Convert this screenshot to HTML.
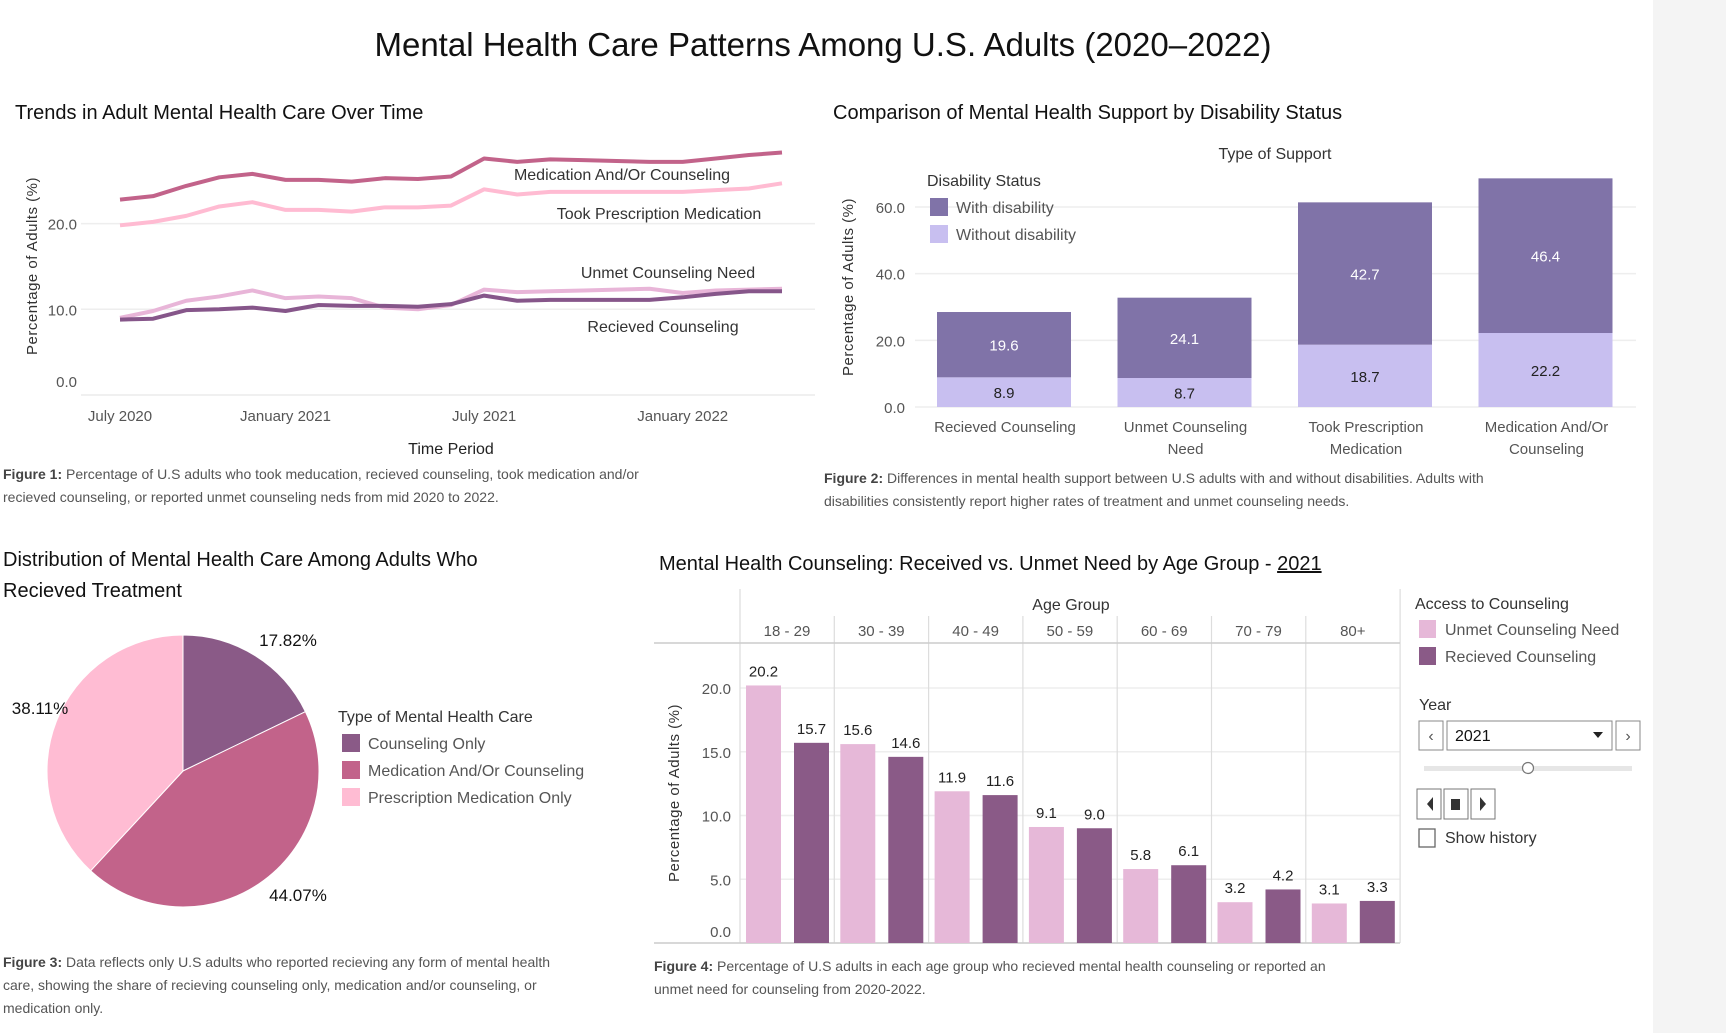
<!DOCTYPE html>
<html><head><meta charset="utf-8"><style>
body{margin:0;background:#fff;}
svg{display:block;font-family:"Liberation Sans",sans-serif;}
</style></head><body>
<svg id="root" width="1726" height="1033" viewBox="0 0 1726 1033">
<rect x="1653" y="0" width="73" height="1033" fill="#f4f4f4"/>
<text x="823" y="56" text-anchor="middle" font-size="33" fill="#111">Mental Health Care Patterns Among U.S. Adults (2020–2022)</text>
<g id="c1"></g>
<g id="c2"></g>
<g id="c3"></g>
<g id="c4"></g>
</svg>
<script>
const medCounsel=[22.8,23.2,24.4,25.4,25.8,25.1,25.1,24.9,25.3,25.2,25.5,27.6,27.2,27.5,27.4,27.3,27.2,27.2,27.6,28.0,28.3];
const tookRx=[19.8,20.2,20.9,22.0,22.5,21.6,21.6,21.4,21.9,21.9,22.1,24.0,23.4,23.7,23.7,23.7,23.7,23.7,23.9,24.1,24.7];
const unmetNeed=[9.0,9.8,11.0,11.5,12.2,11.3,11.5,11.3,10.2,10.0,10.5,12.3,12.0,12.1,12.2,12.3,12.4,11.9,12.2,12.3,12.4];
const receivedC=[8.8,8.9,9.9,10.0,10.2,9.8,10.5,10.4,10.4,10.3,10.6,11.6,11.0,11.1,11.1,11.1,11.1,11.4,11.8,12.1,12.1];
const trendTickIdx=[0,5,11,17];
const trendTickLabels=["July 2020","January 2021","July 2021","January 2022"];
const trendYTicks=[0,10,20];

const supportCats=["Recieved Counseling","Unmet Counseling|Need","Took Prescription|Medication","Medication And/Or|Counseling"];
const withDis=[19.6,24.1,42.7,46.4];
const withoutDis=[8.9,8.7,18.7,22.2];
const supportYTicks=[0,20,40,60];

const pieLabels=["Counseling Only","Medication And/Or Counseling","Prescription Medication Only"];
const pieValues=[17.82,44.07,38.11];

const ageGroups=["18 - 29","30 - 39","40 - 49","50 - 59","60 - 69","70 - 79","80+"];
const ageUnmet=[20.2,15.6,11.9,9.1,5.8,3.2,3.1];
const ageReceived=[15.7,14.6,11.6,9.0,6.1,4.2,3.3];
const ageYTicks=[0,5,10,15,20];

const NS="http://www.w3.org/2000/svg";
function mk(p,tag,a,txt){const e=document.createElementNS(NS,tag);for(const k in a)e.setAttribute(k,a[k]);if(txt!==undefined)e.textContent=txt;p.appendChild(e);return e;}
const GREY="#555";

// ---------- Chart 1 ----------
(function(){
const g=document.getElementById('c1');
const y=v=>395-v*8.57, x=i=>120+i*33.1;
let e=mk(g,'text',{x:15,y:119,'font-size':20,fill:'#111'},'Trends in Adult Mental Health Care Over Time');


trendYTicks.forEach(t=>{
 const l=mk(g,'line',{x1:81,x2:815,y1:y(t),y2:y(t),stroke:'#eee','stroke-width':1.5});
 
 
 const tx=mk(g,'text',{x:77,y:t===0?y(t)-8:y(t)+6,'text-anchor':'end','font-size':15,fill:GREY},t.toFixed(1));
 
 
});
e=mk(g,'line',{x1:81,x2:815,y1:395,y2:395,stroke:'#eee','stroke-width':1.5});


trendTickIdx.forEach((ix,k)=>{
 const tx=mk(g,'text',{x:x(ix),y:421,'text-anchor':'middle','font-size':15,fill:GREY},trendTickLabels[k]);
 
 
});
const series=[[unmetNeed,'#e8b5d8','unmet-line'],[receivedC,'#86568a','received-line'],[tookRx,'#ffbbd2','prescription-line'],[medCounsel,'#c2638a','medication-counseling-line']];
series.forEach(s=>{
 const p=mk(g,'polyline',{points:s[0].map((v,i)=>x(i)+','+y(v)).join(' '),fill:'none',stroke:s[1],'stroke-width':4,'stroke-linejoin':'round'});
 
 
});
[['Medication And/Or Counseling',622,180,'label-medication-counseling'],['Took Prescription Medication',659,219,'label-prescription'],['Unmet Counseling Need',668,278,'label-unmet'],['Recieved Counseling',663,332,'label-received']].forEach(a=>{
 const t=mk(g,'text',{x:a[1],y:a[2],'text-anchor':'middle','font-size':16,fill:'#333'},a[0]);
 
 
});
e=mk(g,'text',{transform:'translate(37,266) rotate(-90)','text-anchor':'middle','font-size':15,fill:'#333','letter-spacing':'0.5'},'Percentage of Adults (%)');


e=mk(g,'text',{x:451,y:454,'text-anchor':'middle','font-size':16,fill:'#222'},'Time Period');


e=mk(g,'text',{x:3,y:479,'font-size':14,fill:GREY});
e.innerHTML='<tspan font-weight="bold" fill="#444">Figure 1:</tspan> Percentage of U.S adults who took meducation, recieved counseling, took medication and/or';


e=mk(g,'text',{x:3,y:502,'font-size':14,fill:GREY},'recieved counseling, or reported unmet counseling neds from mid 2020 to 2022.');


})();

// ---------- Chart 2 ----------
(function(){
const g=document.getElementById('c2');
const y=v=>407-v*3.333, bx=i=>915+i*180.5;
let e=mk(g,'text',{x:833,y:119,'font-size':20,fill:'#111'},'Comparison of Mental Health Support by Disability Status');


e=mk(g,'text',{x:1275,y:159,'text-anchor':'middle','font-size':16,fill:'#333'},'Type of Support');


supportYTicks.forEach(t=>{
 const l=mk(g,'line',{x1:915,x2:1636,y1:y(t),y2:y(t),stroke:'#eee','stroke-width':1.5});
 
 
 const tx=mk(g,'text',{x:905,y:y(t)+6,'text-anchor':'end','font-size':15,fill:GREY},t.toFixed(1));
 
 
});
supportCats.forEach((c,i)=>{
 const x0=bx(i)+22,w=134;
 const r1=mk(g,'rect',{x:x0,y:y(withoutDis[i]),width:w,height:withoutDis[i]*3.333,fill:'#c8bff0'});
 
 
 const r2=mk(g,'rect',{x:x0,y:y(withoutDis[i]+withDis[i]),width:w,height:withDis[i]*3.333,fill:'#8073a8'});
 
 
 const t1=mk(g,'text',{x:x0+w/2,y:y(withoutDis[i]/2)+6,'text-anchor':'middle','font-size':15,fill:'#222'},withoutDis[i].toFixed(1));
 
 
 const t2=mk(g,'text',{x:x0+w/2,y:y(withoutDis[i]+withDis[i]/2)+6,'text-anchor':'middle','font-size':15,fill:'#fff'},withDis[i].toFixed(1));
 
 
 c.split('|').forEach((ln,k)=>{
  const tx=mk(g,'text',{x:bx(i)+90,y:432+k*22,'text-anchor':'middle','font-size':15,fill:GREY},ln);
  
  
 });
});
e=mk(g,'text',{transform:'translate(853,287) rotate(-90)','text-anchor':'middle','font-size':15,fill:'#333','letter-spacing':'0.5'},'Percentage of Adults (%)');


e=mk(g,'text',{x:927,y:186,'font-size':16,fill:'#333'},'Disability Status');


[['With disability','#8073a8',198],['Without disability','#c8bff0',225]].forEach(a=>{
 const r=mk(g,'rect',{x:930,y:a[2],width:18,height:18,fill:a[1]});
 
 
 const t=mk(g,'text',{x:956,y:a[2]+15,'font-size':16,fill:GREY},a[0]);
 
 
});
e=mk(g,'text',{x:824,y:483,'font-size':14,fill:GREY});
e.innerHTML='<tspan font-weight="bold" fill="#444">Figure 2:</tspan> Differences in mental health support between U.S adults with and without disabilities. Adults with';


e=mk(g,'text',{x:824,y:506,'font-size':14,fill:GREY},'disabilities consistently report higher rates of treatment and unmet counseling needs.');


})();

// ---------- Pie ----------
(function(){
const g=document.getElementById('c3');
let e=mk(g,'text',{x:3,y:566,'font-size':20,fill:'#111'},'Distribution of Mental Health Care Among Adults Who');


e=mk(g,'text',{x:3,y:597,'font-size':20,fill:'#111'},'Recieved Treatment');


const cx=183,cy=771,r=136,cols=['#8a5a87','#c2638a','#ffbcd3'];
const tot=pieValues.reduce((a,b)=>a+b,0);
let a0=0;
const pctPos=[[288,646],[298,901],[40,714]];
pieValues.forEach((v,i)=>{
 const a1=a0+v/tot*2*Math.PI;
 const p=(a)=>[cx+r*Math.sin(a),cy-r*Math.cos(a)];
 const s=p(a0),t=p(a1);
 const path=mk(g,'path',{d:`M${cx},${cy}L${s[0]},${s[1]}A${r},${r} 0 ${a1-a0>Math.PI?1:0} 1 ${t[0]},${t[1]}Z`,fill:cols[i],stroke:'#fff','stroke-width':1});
 
 
 const lb=mk(g,'text',{x:pctPos[i][0],y:pctPos[i][1],'text-anchor':'middle','font-size':17,fill:'#111'},v.toFixed(2)+'%');
 
 
 a0=a1;
});
e=mk(g,'text',{x:338,y:722,'font-size':16,fill:'#333'},'Type of Mental Health Care');


pieLabels.forEach((l,i)=>{
 const rr=mk(g,'rect',{x:342,y:734+i*27,width:18,height:18,fill:cols[i]});
 
 
 const t=mk(g,'text',{x:368,y:749+i*27,'font-size':16,fill:GREY},l);
 
 
});
['Data reflects only U.S adults who reported recieving any form of mental health','care, showing the share of recieving counseling only, medication and/or counseling, or','medication only.'].forEach((l,i)=>{
 const t=mk(g,'text',{x:3,y:967+i*23,'font-size':14,fill:GREY});
 t.innerHTML=(i===0?'<tspan font-weight="bold" fill="#444">Figure 3:</tspan> ':'')+l;
 
 
});
})();

// ---------- Age chart ----------
(function(){
const g=document.getElementById('c4');
const y=v=>943-v*12.75, bx=i=>740+i*94.3;
let e=mk(g,'text',{x:659,y:570,'font-size':20,fill:'#111'});
e.innerHTML='Mental Health Counseling: Received vs. Unmet Need by Age Group - <tspan text-decoration="underline">2021</tspan>';


e=mk(g,'text',{x:1071,y:610,'text-anchor':'middle','font-size':16,fill:'#333'},'Age Group');


ageYTicks.forEach(t=>{
 const l=mk(g,'line',{x1:740,x2:1400,y1:y(t),y2:y(t),stroke:'#eee','stroke-width':1.5});
 
 
 const tx=mk(g,'text',{x:731,y:t===0?y(t)-6:y(t)+6,'text-anchor':'end','font-size':15,fill:GREY},t.toFixed(1));
 
 
});
for(let i=0;i<=ageGroups.length;i++){
 const l=mk(g,'line',{x1:bx(i),x2:bx(i),y1:i===0||i===7?589:616,y2:943,stroke:'#ddd','stroke-width':1.2});
 
 
}
e=mk(g,'line',{x1:654,x2:1400,y1:643,y2:643,stroke:'#ccc','stroke-width':1.5});


e=mk(g,'line',{x1:654,x2:1400,y1:943,y2:943,stroke:'#ccc','stroke-width':1.5});


ageGroups.forEach((a,i)=>{
 const t=mk(g,'text',{x:bx(i)+47,y:636,'text-anchor':'middle','font-size':15,fill:GREY},a);
 
 
 [[ageUnmet[i],'#e6b8d8',6,'bar-unmet'],[ageReceived[i],'#8a5a87',54,'bar-received']].forEach(b=>{
  const r=mk(g,'rect',{x:bx(i)+b[2],y:y(b[0]),width:35,height:b[0]*12.75,fill:b[1]});
  
  
  const vt=mk(g,'text',{x:bx(i)+b[2]+17.5,y:y(b[0])-9,'text-anchor':'middle','font-size':15,fill:'#222'},b[0].toFixed(1));
  
  
 });
});
e=mk(g,'text',{transform:'translate(679,793) rotate(-90)','text-anchor':'middle','font-size':15,fill:'#333','letter-spacing':'0.5'},'Percentage of Adults (%)');


e=mk(g,'text',{x:654,y:971,'font-size':14,fill:GREY});
e.innerHTML='<tspan font-weight="bold" fill="#444">Figure 4:</tspan> Percentage of U.S adults in each age group who recieved mental health counseling or reported an';


e=mk(g,'text',{x:654,y:994,'font-size':14,fill:GREY},'unmet need for counseling from 2020-2022.');


e=mk(g,'text',{x:1415,y:609,'font-size':16,fill:'#333'},'Access to Counseling');


[['Unmet Counseling Need','#e6b8d8',620],['Recieved Counseling','#8a5a87',647]].forEach(a=>{
 const r=mk(g,'rect',{x:1419,y:a[2],width:17,height:18,fill:a[1]});
 
 
 const t=mk(g,'text',{x:1445,y:a[2]+15,'font-size':16,fill:GREY},a[0]);
 
 
});
e=mk(g,'text',{x:1419,y:710,'font-size':16,fill:'#333'},'Year');


e=mk(g,'rect',{x:1419,y:721,width:24,height:29,fill:'#fff',stroke:'#888'});


e=mk(g,'text',{x:1431,y:741,'text-anchor':'middle','font-size':16,fill:'#555'},'‹');


e=mk(g,'rect',{x:1447,y:721,width:165,height:29,fill:'#fff',stroke:'#888'});


e=mk(g,'text',{x:1455,y:741,'font-size':16,fill:'#111'},'2021');


e=mk(g,'path',{d:'M1593,732 L1603,732 L1598,738 Z',fill:'#222'});


e=mk(g,'rect',{x:1616,y:721,width:24,height:29,fill:'#fff',stroke:'#888'});


e=mk(g,'text',{x:1628,y:741,'text-anchor':'middle','font-size':16,fill:'#555'},'›');


e=mk(g,'rect',{x:1424,y:766,width:208,height:5,fill:'#e6e6e6'});


e=mk(g,'circle',{cx:1528,cy:768,r:5.5,fill:'#fff',stroke:'#777','stroke-width':1.2});


[['play-back-button',1417,'M1433,797 L1427,804 L1433,811Z'],['stop-button',1444,'M1451,799 h9 v11 h-9Z'],['play-forward-button',1471,'M1480,797 L1486,804 L1480,811Z']].forEach(b=>{
 const r=mk(g,'rect',{x:b[1],y:789,width:24,height:30,fill:'#fff',stroke:'#777'});
 
 
 const ic=mk(g,'path',{d:b[2],fill:'#333'});
 
 
});
e=mk(g,'rect',{x:1419,y:829,width:16,height:18,fill:'#fff',stroke:'#666','stroke-width':1.3});


e=mk(g,'text',{x:1445,y:843,'font-size':16,fill:'#333'},'Show history');


})();
</script>
</body></html>
